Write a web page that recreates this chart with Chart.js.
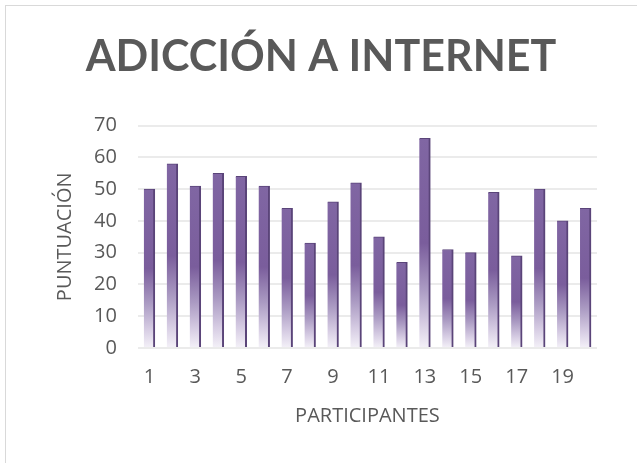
<!DOCTYPE html>
<html lang="es">
<head>
  <meta charset="UTF-8">
  <title>Adicción a Internet</title>
  <script src="https://cdn.jsdelivr.net/npm/chart.js"></script>
  <style>
    html, body { margin: 0; padding: 0; background: #fff; }
    #frame {
      position: absolute; left: 5px; top: 5px; width: 700px; height: 500px;
      border-left: 1px solid #d9d9d9; border-top: 1px solid #d9d9d9;
    }
    #wrap { position: absolute; left: 0; top: 0; width: 637px; height: 463px; }
  </style>
</head>
<body>
  <div id="frame"></div>
  <div id="wrap"><canvas id="chart" width="637" height="463"></canvas></div>

  <script>
    // data
    const participantes = ['1','2','3','4','5','6','7','8','9','10','11','12','13','14','15','16','17','18','19','20'];
    const puntuacion = [50, 58, 51, 55, 54, 51, 44, 33, 46, 52, 35, 27, 66, 31, 30, 49, 29, 50, 40, 44];
    const yTicks = [0, 10, 20, 30, 40, 50, 60, 70];

    const textColor = '#595959';

    // bar fill: solid purple in the upper half, fading out towards the base
    function barFill(context) {
      const chart = context.chart;
      const area = chart.chartArea;
      if (!area || context.parsed === undefined) return '#7d61a0';
      const y = chart.scales.y;
      const top = y.getPixelForValue(context.parsed.y);
      const base = y.getPixelForValue(0);
      const g = chart.ctx.createLinearGradient(0, top, 0, base);
      g.addColorStop(0, '#8066a3');
      g.addColorStop(0.5, '#7a5d9c');
      g.addColorStop(0.72, '#ab9bc3');
      g.addColorStop(0.88, '#d6cce3');
      g.addColorStop(1, '#f4f1f8');
      return g;
    }

    new Chart(document.getElementById('chart'), {
      type: 'bar',
      data: {
        labels: participantes,
        datasets: [{
          label: 'Puntuación',
          data: puntuacion,
          backgroundColor: barFill,
          borderColor: '#5a4479',
          borderWidth: { top: 1, right: 2, bottom: 0, left: 0 },
          borderSkipped: false,
          barThickness: 11
        }]
      },
      options: {
        responsive: false,
        animation: false,
        layout: { padding: { left: 45, right: 40, top: 31, bottom: 31 } },
        plugins: {
          legend: { display: false },
          tooltip: { enabled: false },
          title: {
            display: true,
            text: 'ADICCIÓN A INTERNET',
            color: textColor,
            font: { family: 'Lato', size: 43, weight: 'bold' },
            padding: { top: 0, bottom: 43 }
          }
        },
        scales: {
          x: {
            grid: { display: false },
            border: { display: false },
            ticks: {
              autoSkip: false,
              maxRotation: 0,
              color: textColor,
              font: { family: 'Open Sans', size: 20 },
              padding: 9,
              callback: function (val, i) { return i % 2 === 0 ? participantes[i] : ''; }
            },
            title: {
              display: true,
              text: 'PARTICIPANTES',
              color: textColor,
              font: { family: 'Open Sans', size: 20 },
              padding: { top: 6 }
            }
          },
          y: {
            min: yTicks[0],
            max: yTicks[yTicks.length - 1],
            afterBuildTicks: function (axis) { axis.ticks = yTicks.map(v => ({ value: v })); },
            grid: { color: '#ebebeb', lineWidth: 2, drawTicks: false },
            border: { display: false },
            ticks: {
              color: textColor,
              font: { family: 'Open Sans', size: 20 },
              padding: 21
            },
            title: {
              display: true,
              text: 'PUNTUACIÓN',
              color: textColor,
              font: { family: 'Open Sans', size: 20 },
              padding: { top: 8, bottom: -4 }
            }
          }
        }
      }
    });
  </script>
</body>
</html>
